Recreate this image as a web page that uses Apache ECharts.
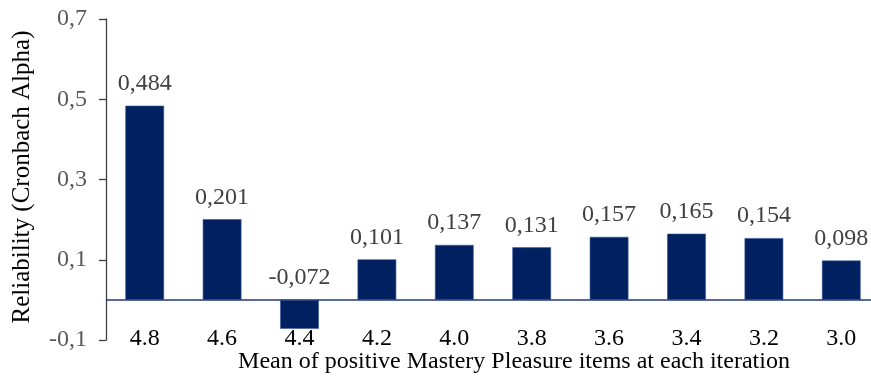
<!DOCTYPE html>
<html>
<head>
<meta charset="utf-8">
<style>
  html, body { margin: 0; padding: 0; background: #fff; }
  #chart { width: 871px; height: 378px; }
</style>
<script src="https://cdn.jsdelivr.net/npm/echarts@6/dist/echarts.min.js"></script>
</head>
<body>
<div id="chart"></div>
<script>
// Mean of positive Mastery Pleasure items kept at each iteration
const categories = ['4.8', '4.6', '4.4', '4.2', '4.0', '3.8', '3.6', '3.4', '3.2', '3.0'];
// Cronbach alpha at each iteration
const alphaValues = [0.484, 0.201, -0.072, 0.101, 0.137, 0.131, 0.157, 0.165, 0.154, 0.098];
// Tick values shown on the reliability axis
const yTicks = [-0.1, 0.1, 0.3, 0.5, 0.7];

const yTitle = 'Reliability (Cronbach Alpha)';
const xTitle = 'Mean of positive Mastery Pleasure items at each iteration';

const FONT = '"Liberation Serif", "Times New Roman", serif';
const SIZE = 24;
const BAR = '#002060';

const comma = (v, d) => v.toFixed(d).replace('.', ',');

const chart = echarts.init(document.getElementById('chart'), null, { renderer: 'canvas' });

chart.setOption({
  animation: false,
  backgroundColor: '#ffffff',
  grid: { left: 106, right: -9, top: 19, bottom: 38, outerBoundsMode: 'none', containLabel: false },
  xAxis: [{
    type: 'category',
    data: categories,
    position: 'bottom',
    axisLine: { show: false, onZero: false },
    axisTick: { show: false },
    axisLabel: {
      margin: -1,
      verticalAlign: 'middle',
      color: '#000',
      fontFamily: FONT,
      fontSize: SIZE
    },
    splitLine: { show: false }
  }],
  yAxis: {
    type: 'value',
    min: -0.1,
    max: 0.7,
    axisLine: { show: true, lineStyle: { color: '#404040', width: 1.3 } },
    axisTick: { show: true, inside: false, length: 7, customValues: yTicks, lineStyle: { color: '#404040', width: 1.3 } },
    axisLabel: {
      customValues: yTicks,
      margin: 19,
      color: '#595959',
      fontFamily: FONT,
      fontSize: SIZE,
      formatter: v => comma(v, 1)
    },
    splitLine: { show: false }
  },
  graphic: [
    {
      type: 'text',
      x: 22,
      y: 177,
      rotation: Math.PI / 2,
      style: {
        text: yTitle,
        fill: '#000',
        font: '25px ' + FONT,
        textAlign: 'center',
        textVerticalAlign: 'middle'
      }
    },
    {
      type: 'text',
      x: 514,
      y: 362,
      style: {
        text: xTitle,
        fill: '#000',
        font: SIZE + 'px ' + FONT,
        textAlign: 'center',
        textVerticalAlign: 'middle'
      }
    }
  ],
  series: [{
    type: 'bar',
    data: alphaValues,
    barWidth: '50%',
    itemStyle: { color: BAR, borderColor: '#3a5a9a', borderWidth: 0.6 },
    label: {
      show: true,
      position: 'top',
      distance: 10,
      color: '#404040',
      fontFamily: FONT,
      fontSize: SIZE,
      formatter: p => comma(p.value, 3)
    },
    markLine: {
      silent: true,
      symbol: 'none',
      label: { show: false },
      lineStyle: { color: '#1f3a73', width: 1.5, type: 'solid' },
      data: [{ yAxis: 0 }]
    }
  }]
});
</script>
</body>
</html>
